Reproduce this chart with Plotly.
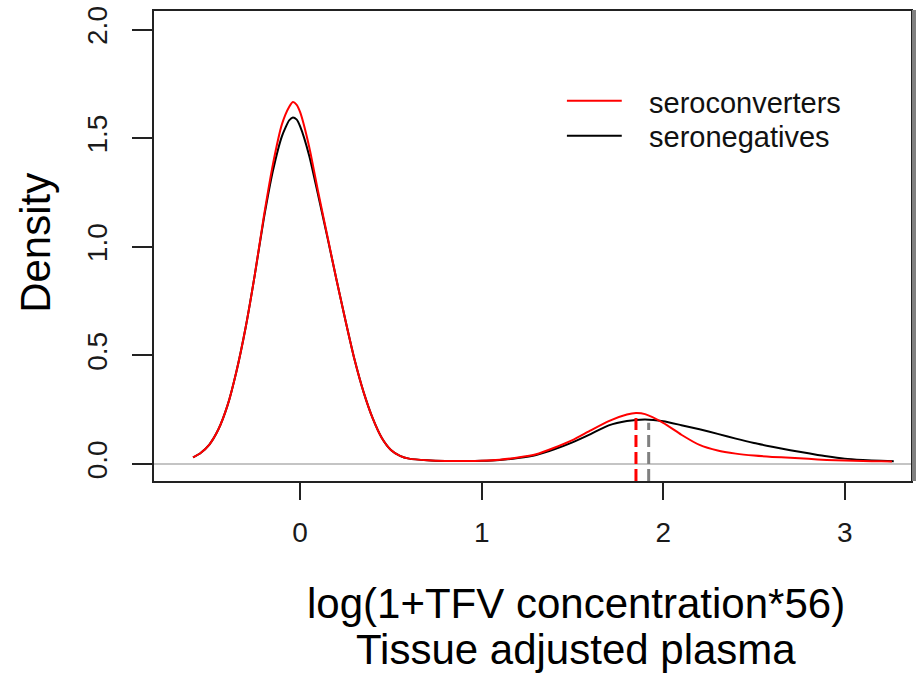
import plotly.graph_objects as go

# ---------------- data ----------------
x_sero = [-0.59, -0.55, -0.50, -0.45, -0.40, -0.35, -0.30, -0.25, -0.20, -0.15,
          -0.10, -0.06, -0.04, -0.02, 0.00, 0.05, 0.10, 0.15, 0.20, 0.25,
          0.30, 0.35, 0.40, 0.45, 0.50, 0.55, 0.60, 0.70, 0.80, 0.90,
          1.00, 1.10, 1.20, 1.30, 1.40, 1.50, 1.60, 1.70, 1.80, 1.85,
          1.90, 2.00, 2.10, 2.20, 2.30, 2.40, 2.50, 2.60, 2.70, 2.80,
          2.90, 3.00, 3.10, 3.20, 3.26]
y_sero = [0.031, 0.05, 0.09, 0.16, 0.27, 0.43, 0.63, 0.87, 1.14, 1.38,
          1.565, 1.645, 1.667, 1.655, 1.62, 1.46, 1.25, 1.05, 0.85, 0.66,
          0.48, 0.33, 0.21, 0.12, 0.065, 0.038, 0.025, 0.017, 0.014, 0.014,
          0.015, 0.02, 0.03, 0.045, 0.075, 0.11, 0.155, 0.198, 0.228, 0.235,
          0.23, 0.19, 0.135, 0.088, 0.062, 0.048, 0.039, 0.033, 0.029, 0.024,
          0.019, 0.016, 0.014, 0.013, 0.012]

x_neg = [-0.59, -0.55, -0.50, -0.45, -0.40, -0.35, -0.30, -0.25, -0.20, -0.15,
         -0.10, -0.06, -0.04, -0.02, 0.00, 0.05, 0.10, 0.15, 0.20, 0.25,
         0.30, 0.35, 0.40, 0.45, 0.50, 0.55, 0.60, 0.70, 0.80, 0.90,
         1.00, 1.10, 1.20, 1.30, 1.40, 1.50, 1.60, 1.70, 1.80, 1.90,
         2.00, 2.10, 2.20, 2.30, 2.40, 2.50, 2.60, 2.70, 2.80, 2.90,
         3.00, 3.10, 3.20, 3.27]
y_neg = [0.031, 0.05, 0.09, 0.16, 0.27, 0.43, 0.63, 0.87, 1.13, 1.35,
         1.51, 1.583, 1.596, 1.587, 1.555, 1.42, 1.235, 1.045, 0.85, 0.66,
         0.48, 0.33, 0.21, 0.12, 0.065, 0.038, 0.025, 0.017, 0.014, 0.014,
         0.015, 0.019, 0.028, 0.042, 0.068, 0.10, 0.138, 0.178, 0.198, 0.205,
         0.197, 0.179, 0.16, 0.139, 0.117, 0.097, 0.08, 0.064, 0.05, 0.036,
         0.025, 0.019, 0.015, 0.013]

# medians (dashed markers)
median_sero = 1.85
median_sero_height = 0.234
median_neg = 1.92
median_neg_height = 0.19

series_names = ["seroconverters", "seronegatives"]
x_ticks = [0, 1, 2, 3]
y_ticks = [0.0, 0.5, 1.0, 1.5, 2.0]
y_tick_labels = ["0.0", "0.5", "1.0", "1.5", "2.0"]
x_title_1 = "log(1+TFV concentration*56)"
x_title_2 = "Tissue adjusted plasma"
y_title = "Density"

# ---------------- layout geometry ----------------
W, H = 919, 674
ML, MR, MT, MB = 154, 6, 10, 193
PW, PH = W - ML - MR, H - MT - MB
X_RANGE = [-0.805, 3.365]
Y_RANGE = [-0.078, 2.086]
FONT = "Arial, Liberation Sans, sans-serif"
RED = "#ff0000"
BLACK = "#000000"
GRAY = "#808080"


def px(xpix):
    return (xpix - ML) / PW


def py(ypix):
    return 1 - (ypix - MT) / PH


fig = go.Figure()

fig.add_trace(go.Scatter(x=x_neg, y=y_neg, mode="lines", name=series_names[1],
                         line=dict(color=BLACK, width=2, shape="spline", smoothing=0.6),
                         showlegend=False, hoverinfo="x+y"))
fig.add_trace(go.Scatter(x=x_sero, y=y_sero, mode="lines", name=series_names[0],
                         line=dict(color=RED, width=2, shape="spline", smoothing=0.6),
                         showlegend=False, hoverinfo="x+y"))

fig.add_trace(go.Scatter(x=[median_neg, median_neg], y=[Y_RANGE[0], median_neg_height],
                         mode="lines", line=dict(color=GRAY, width=3, dash="12px,5px"),
                         showlegend=False, hoverinfo="skip"))
fig.add_trace(go.Scatter(x=[median_sero, median_sero], y=[Y_RANGE[0], median_sero_height],
                         mode="lines", line=dict(color=RED, width=3, dash="12px,5px"),
                         showlegend=False, hoverinfo="skip"))

shapes = [
    # right gray border
    dict(type="line", xref="paper", yref="paper", x0=1 + 3 / PW, x1=1 + 3 / PW,
         y0=0, y1=1 + 1 / PH, line=dict(color=GRAY, width=4)),
    # legend keys
    dict(type="line", xref="paper", yref="paper", x0=px(568), x1=px(623),
         y0=py(100), y1=py(100), line=dict(color=RED, width=2)),
    dict(type="line", xref="paper", yref="paper", x0=px(568), x1=px(623),
         y0=py(135), y1=py(135), line=dict(color=BLACK, width=2)),
]

annotations = [
    dict(text=series_names[0], xref="paper", yref="paper", x=px(648), y=py(102),
         xanchor="left", yanchor="middle", showarrow=False,
         font=dict(family=FONT, size=29, color="#111111")),
    dict(text=series_names[1], xref="paper", yref="paper", x=px(648), y=py(136),
         xanchor="left", yanchor="middle", showarrow=False,
         font=dict(family=FONT, size=29, color="#111111")),
    dict(text=x_title_1, xref="paper", yref="paper", x=px(577), y=py(604),
         xanchor="center", yanchor="middle", showarrow=False,
         font=dict(family=FONT, size=42, color="black")),
    dict(text=x_title_2, xref="paper", yref="paper", x=px(577), y=py(650),
         xanchor="center", yanchor="middle", showarrow=False,
         font=dict(family=FONT, size=42, color="black")),
    dict(text=y_title, xref="paper", yref="paper", x=px(35), y=py(242),
         xanchor="center", yanchor="middle", showarrow=False, textangle=-90,
         font=dict(family=FONT, size=42, color="black")),
]

fig.update_layout(
    width=W, height=H,
    margin=dict(l=ML, r=MR, t=MT, b=MB, pad=0),
    paper_bgcolor="white", plot_bgcolor="white",
    showlegend=False,
    shapes=shapes, annotations=annotations,
    xaxis=dict(range=X_RANGE, tickvals=x_ticks, ticktext=[str(v) for v in x_ticks],
               showgrid=False, zeroline=False, showline=True, mirror=True,
               linecolor="#222222", linewidth=2, ticks="outside", ticklen=17,
               tickwidth=2, tickcolor="#222222", ticklabelstandoff=8,
               tickfont=dict(family=FONT, size=28, color="#1a1a1a")),
    yaxis=dict(range=Y_RANGE, tickvals=y_ticks, ticktext=y_tick_labels,
               showgrid=False, zeroline=True, zerolinecolor="#c4c4c4", zerolinewidth=2,
               showline=True, mirror=True, linecolor="#222222", linewidth=2,
               ticks="outside", ticklen=20, tickwidth=2, tickcolor="#222222",
               tickangle=-90, ticklabelstandoff=14,
               tickfont=dict(family=FONT, size=28, color="#1a1a1a")),
)

fig.write_html("out.html")
